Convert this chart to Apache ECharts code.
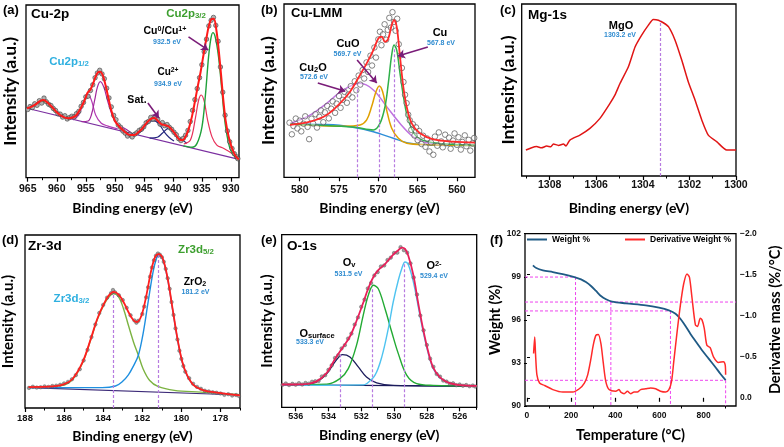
<!DOCTYPE html>
<html><head><meta charset="utf-8">
<script src="https://cdn.jsdelivr.net/npm/echarts@6/dist/echarts.min.js"></script>
<style>html,body{margin:0;padding:0;background:#fff}#c{width:784px;height:447px}</style>
</head><body><div id="c"></div>
<script>
// ---------------- DATA ----------------
// (a) Cu-2p  [binding energy eV, intensity a.u.]
const aTicks = [930,935,940,945,950,955,960,965];
const aMinor = [932.5,937.5,942.5,947.5,952.5,957.5,962.5];
const aObs = [[965.0,39.5],[964.6,41.2],[964.2,40.6],[963.8,42.8],[963.4,41.9],[963.0,44.6],[962.6,43.2],[962.2,46.1],[961.8,44.0],[961.4,42.5],[961.0,41.8],[960.6,40.1],[960.2,38.9],[959.8,37.0],[959.4,36.8],[959.0,35.1],[958.6,35.9],[958.2,34.0],[957.8,34.8],[957.4,35.6],[957.0,35.2],[956.6,37.1],[956.2,38.4],[955.8,41.3],[955.4,43.6],[955.0,46.8],[954.6,47.2],[954.2,50.5],[953.8,53.8],[953.4,57.9],[953.0,60.6],[952.6,62.2],[952.2,60.1],[951.8,57.3],[951.4,51.8],[951.0,46.2],[950.6,41.0],[950.2,36.1],[949.8,33.6],[949.4,30.5],[949.0,29.2],[948.6,27.0],[948.2,25.8],[947.8,24.1],[947.4,25.2],[947.0,23.6],[946.6,25.1],[946.2,26.0],[945.8,27.4],[945.4,28.1],[945.0,29.5],[944.6,31.8],[944.2,32.6],[943.8,34.9],[943.4,33.8],[943.0,35.3],[942.6,33.9],[942.2,31.0],[941.8,31.9],[941.4,30.1],[941.0,30.8],[940.6,29.2],[940.2,28.0],[939.8,26.3],[939.4,24.9],[939.0,22.6],[938.6,21.5],[938.2,22.8],[937.8,24.6],[937.4,27.4],[937.0,32.5],[936.6,39.0],[936.2,45.2],[935.8,51.6],[935.4,57.9],[935.0,65.4],[934.6,73.0],[934.2,80.2],[933.8,87.9],[933.4,91.1],[933.0,92.8],[932.6,88.2],[932.2,79.0],[931.8,64.1],[931.4,49.5],[931.0,36.2],[930.6,27.1],[930.2,20.8],[929.8,16.9],[929.4,13.9],[929.0,12.1],[928.8,11.0]];
const aFit = [[965.13,40.2],[964.3,41.2],[963.71,42.3],[962.9,44.3],[962.28,45.0],[961.6,43.5],[960.86,41.1],[959.44,36.3],[958.02,34.4],[957.17,35.0],[956.6,36.3],[955.9,40.0],[955.18,45.0],[954.72,49.0],[954.2,51.0],[953.75,54.5],[953.3,58.5],[952.9,61.0],[952.5,61.4],[952.1,59.5],[951.7,55.0],[951.19,47.5],[950.62,39.2],[950.0,33.0],[949.2,29.5],[948.35,26.8],[947.5,24.8],[946.65,24.7],[945.9,26.5],[945.22,28.6],[944.37,32.3],[943.7,34.2],[943.2,34.6],[942.6,33.0],[942.0,31.0],[941.3,30.4],[940.78,29.8],[940.2,28.0],[939.5,25.0],[938.8,22.0],[938.3,21.9],[937.7,24.5],[937.2,29.0],[936.7,35.5],[936.2,44.0],[935.7,53.0],[935.2,61.5],[934.7,71.5],[934.2,81.0],[933.8,87.8],[933.35,91.8],[932.95,92.0],[932.5,85.5],[932.1,74.0],[931.7,60.0],[931.3,45.0],[930.9,33.0],[930.4,24.0],[929.9,18.0],[929.4,13.8],[929.0,11.8],[928.61,10.6]];
const aCu0 = [[938.2,18.4],[936.69,17.6],[935.83,19.9],[934.98,29.5],[934.41,46.9],[933.84,70.1],[933.44,80.7],[933.1,84.0],[932.71,81.7],[932.13,70.1],[931.56,50.8],[930.99,31.5],[930.25,18.0],[929.57,13.1],[928.61,10.6]];
const aCu2 = [[938.11,19.5],[936.97,21.8],[936.12,34.4],[935.55,45.0],[935.1,47.9],[934.58,44.0],[934.01,33.4],[933.27,23.8],[932.42,18.9],[931.28,17.0],[929.57,13.5],[928.61,11.0]];
const aSat1 = [[946.07,25.3],[945.22,27.6],[944.37,31.5],[943.34,33.0],[942.38,31.1],[941.52,26.7],[940.67,23.4],[939.8,21.2]];
const aSat2 = [[944.0,22.9],[942.66,23.4],[941.81,25.7],[940.78,28.6],[939.93,26.1],[939.13,22.8],[938.39,21.8],[937.6,20.0]];
const aP1 = [[955.74,32.4],[954.6,32.8],[954.04,36.3],[953.46,45.0],[953.01,52.3],[952.5,55.6],[951.88,52.3],[951.19,44.0],[950.34,35.3],[949.49,30.5],[948.35,28.6],[947.2,26.0]];
const aP2 = [[957.17,33.4],[956.2,36.3],[955.46,43.1],[954.72,48.5],[954.04,45.0],[953.3,36.3],[952.33,31.5],[951.19,29.9],[949.5,28.3]];
const aP962 = [[965.13,40.2],[964.3,41.0],[963.5,42.8],[962.3,44.3],[961.2,41.3],[960.2,38.0],[959.2,35.8],[958.0,34.5]];
const aBase = [[965.13,40.2],[928.61,10.6]];
const aArrows = [[[937.3,81.5],[933.9,73.9]],[[944.3,43.3],[942.4,34.6]]];

// (b) Cu-LMM
const bTicks = [560,565,570,575,580];
const bMinor = [562.5,567.5,572.5,577.5];
const bObs = [[581.3,31.5],[581.0,24.8],[580.8,29.6],[580.5,33.9],[580.3,28.2],[580.0,32.7],[579.8,26.5],[579.5,30.9],[579.3,35.2],[579.0,29.1],[578.8,22.0],[578.5,33.8],[578.3,31.0],[578.0,36.4],[577.8,28.7],[577.5,34.9],[577.3,38.6],[577.0,31.8],[576.8,37.5],[576.5,41.2],[576.3,34.0],[576.0,39.6],[575.8,43.8],[575.5,37.2],[575.3,42.5],[575.0,46.9],[574.8,40.1],[574.5,44.7],[574.3,49.3],[574.0,43.0],[573.8,47.8],[573.5,52.6],[573.3,46.1],[573.0,55.4],[572.8,50.2],[572.5,58.7],[572.3,53.5],[572.0,61.9],[571.8,57.0],[571.5,66.3],[571.3,60.8],[571.0,70.2],[570.8,64.5],[570.5,74.9],[570.3,69.1],[570.0,79.6],[569.8,84.0],[569.6,76.2],[569.4,82.5],[569.2,88.3],[569.0,79.4],[568.8,85.1],[568.6,92.0],[568.4,86.4],[568.2,95.3],[568.0,89.7],[567.8,84.6],[567.6,91.5],[567.4,76.8],[567.2,70.3],[567.0,63.1],[566.8,55.0],[566.6,47.6],[566.4,42.8],[566.2,36.1],[566.0,32.9],[565.8,27.4],[565.6,30.6],[565.4,24.1],[565.2,28.8],[565.0,21.5],[564.8,26.7],[564.5,19.2],[564.3,24.0],[564.0,17.6],[563.8,22.4],[563.5,14.9],[563.3,20.1],[563.0,13.0],[562.8,23.5],[562.5,18.2],[562.3,25.9],[562.0,20.7],[561.8,17.3],[561.5,24.6],[561.3,19.8],[561.0,22.9],[560.8,16.5],[560.5,21.2],[560.3,25.3],[560.0,18.7],[559.8,23.1],[559.5,16.0],[559.3,20.4],[559.0,24.2],[558.8,17.9],[558.5,21.6],[558.3,15.4],[558.0,19.5],[557.8,22.7]];
const bFit = [[581.24,30.2],[578.69,32.1],[576.57,36.0],[574.88,42.7],[573.6,49.4],[572.33,59.0],[571.48,65.7],[570.63,73.4],[570.0,80.1],[569.57,81.1],[569.15,78.2],[568.73,80.1],[568.3,87.8],[568.0,90.7],[567.66,86.9],[567.24,69.5],[566.82,52.2],[566.39,40.7],[565.75,31.1],[564.7,25.4],[563.0,21.9],[560.46,20.6],[557.7,20.0]];
const bBase = [[581.24,30.8],[576.57,30.4],[573.6,29.2],[570.63,26.3],[568.09,22.5],[565.97,19.6],[563.85,18.7],[557.7,18.3]];
const bCu2O = [[581.24,31.0],[578.69,35.9],[576.57,42.7],[574.45,50.4],[572.33,54.2],[570.63,50.4],[568.94,40.8],[567.24,31.1],[565.55,23.4],[563.85,20.0],[557.7,18.6]];
const bCuO = [[581.24,30.8],[574.45,29.5],[572.33,30.2],[571.48,33.1],[570.85,40.8],[570.3,49.4],[569.87,52.7],[569.45,49.4],[568.94,38.8],[568.3,28.3],[567.45,22.5],[566.39,19.6],[563.85,18.8],[557.7,18.4]];
const bCu = [[581.24,30.8],[573.18,29.0],[570.63,27.3],[569.79,31.1],[569.15,40.8],[568.73,54.2],[568.3,70.6],[568.0,76.3],[567.66,73.4],[567.24,60.0],[566.73,44.6],[566.18,33.1],[565.12,23.4],[563.0,20.0],[557.7,18.7]];
const bPeaks = [[572.62,52.3],[569.87,52.3],[568.0,75.4]];
const bArrows = [[[577.7,54.4],[574.2,49.7]],[[572.7,67.7],[570.2,54.4]],[[563.7,75.2],[567.5,70.0]]];

// (c) Mg-1s
const cTicks = [1300,1302,1304,1306,1308];
const cMinor = [1301,1303,1305,1307,1309];
const cLine = [[1309.02,15.1],[1308.8,16.3],[1308.56,17.1],[1308.35,16.4],[1308.13,17.4],[1307.95,17.0],[1307.84,18.6],[1307.62,17.8],[1307.41,18.6],[1307.3,17.5],[1307.13,20.9],[1306.7,23.8],[1306.27,27.7],[1305.84,33.5],[1305.41,42.2],[1305.2,47.0],[1304.98,53.8],[1304.62,63.5],[1304.33,75.1],[1304.05,81.9],[1303.76,87.7],[1303.55,91.0],[1303.33,90.6],[1303.12,89.1],[1302.9,86.8],[1302.62,79.1],[1302.33,67.4],[1302.05,54.8],[1301.76,44.2],[1301.47,32.6],[1301.19,23.8],[1300.83,20.0],[1300.4,15.1],[1300.0,15.1]];
const cPeaks = [[1303.25,90.6]];

// (d) Zr-3d
const dTicks = [178,180,182,184,186,188];
const dMinor = [177,179,181,183,185,187];
const dObs = [[187.8,11.6],[187.6,12.3],[187.4,11.8],[187.2,12.0],[187.0,12.5],[186.8,12.2],[186.6,12.7],[186.4,12.9],[186.2,13.4],[186.0,14.2],[185.8,15.1],[185.6,16.6],[185.4,19.0],[185.2,22.4],[185.0,27.5],[184.8,33.6],[184.6,41.0],[184.4,48.3],[184.2,54.9],[184.0,59.6],[183.8,63.8],[183.6,66.4],[183.5,68.2],[183.4,66.9],[183.2,65.2],[183.0,62.4],[182.8,57.9],[182.6,53.6],[182.4,50.6],[182.3,49.3],[182.2,50.4],[182.0,54.3],[181.9,58.6],[181.8,64.0],[181.7,69.8],[181.6,75.9],[181.5,81.2],[181.4,85.4],[181.3,88.0],[181.2,89.3],[181.1,88.6],[181.0,87.2],[180.9,84.5],[180.8,80.4],[180.7,75.0],[180.6,68.9],[180.5,61.2],[180.4,53.8],[180.3,46.0],[180.2,39.6],[180.1,33.1],[180.0,28.4],[179.9,24.3],[179.8,21.0],[179.6,17.2],[179.4,14.0],[179.2,12.2],[179.0,11.1],[178.8,10.0],[178.6,9.6],[178.4,9.1],[178.2,8.8],[178.0,8.4],[177.8,7.6],[177.6,8.0],[177.4,7.2],[177.2,7.5],[177.05,6.9]];
const dFit = [[187.82,12.1],[186.56,12.5],[186.06,13.5],[185.56,16.9],[185.05,26.6],[184.63,40.1],[184.3,51.6],[183.96,60.3],[183.71,65.1],[183.46,67.1],[183.21,65.5],[182.96,61.3],[182.71,55.5],[182.45,50.7],[182.29,49.7],[182.04,53.5],[181.79,65.1],[181.54,79.6],[181.34,87.3],[181.17,88.9],[180.95,86.4],[180.7,74.8],[180.45,57.4],[180.2,40.1],[179.95,26.6],[179.7,18.9],[179.36,13.1],[178.86,10.2],[178.19,8.9],[177.0,7.3]];
const d32 = [[187.82,12.1],[186.06,13.1],[185.56,16.6],[185.05,26.2],[184.63,39.7],[184.3,51.2],[183.96,59.7],[183.71,64.2],[183.46,66.1],[183.21,64.2],[182.96,57.4],[182.71,47.8],[182.45,38.2],[182.2,30.5],[181.96,22.7],[181.62,15.9],[181.2,12.5],[180.36,10.2],[179.03,9.2],[177.0,7.7]];
const d52 = [[187.82,11.8],[184.05,11.8],[183.37,12.7],[183.04,15.0],[182.71,19.2],[182.45,24.3],[182.2,30.5],[181.96,42.9],[181.7,61.3],[181.45,78.6],[181.28,86.3],[181.17,88.3],[180.95,85.9],[180.7,74.4],[180.45,57.0],[180.2,39.7],[179.95,26.2],[179.7,18.5],[179.36,13.1],[178.86,10.2],[178.19,8.9],[177.0,7.3]];
const dBase = [[187.82,11.8],[177.0,7.5]];
const dPeaks = [[183.5,66.1],[181.2,88.3]];

// (e) O-1s
const eTicks = [526,528,530,532,534,536];
const eMinor = [525,527,529,531,533,535];
const eObs = [[536.8,13.0],[536.6,13.8],[536.4,12.9],[536.2,13.6],[536.0,13.1],[535.8,14.0],[535.6,13.2],[535.4,14.1],[535.2,13.7],[535.0,14.8],[534.8,15.1],[534.6,15.3],[534.4,17.9],[534.2,18.6],[534.0,21.7],[533.8,24.3],[533.6,28.6],[533.4,30.2],[533.2,34.1],[533.0,36.0],[532.8,39.8],[532.6,42.7],[532.4,47.9],[532.2,52.1],[532.0,58.2],[531.8,62.4],[531.6,68.9],[531.4,72.0],[531.2,76.4],[531.0,78.3],[530.8,81.6],[530.6,82.2],[530.4,85.3],[530.2,86.7],[530.0,89.4],[529.8,89.6],[529.6,92.8],[529.4,91.0],[529.2,89.6],[529.0,83.4],[528.8,75.2],[528.6,65.3],[528.4,53.2],[528.2,44.6],[528.0,36.1],[527.8,28.2],[527.6,23.5],[527.4,19.3],[527.2,17.8],[527.0,15.5],[526.8,14.9],[526.6,13.7],[526.4,13.9],[526.2,12.8],[526.0,13.2],[525.8,12.5],[525.6,12.9],[525.4,12.2],[525.2,12.6],[525.05,12.0]];
const eFit = [[536.85,13.2],[535.53,13.3],[534.72,15.0],[534.1,20.0],[533.6,28.0],[533.14,34.5],[532.69,41.0],[532.29,50.0],[531.88,60.5],[531.57,69.0],[531.26,75.5],[530.96,79.5],[530.55,83.0],[530.05,88.5],[529.74,91.0],[529.53,92.5],[529.33,91.8],[529.13,87.8],[528.82,76.5],[528.52,60.0],[528.22,45.0],[527.91,32.0],[527.61,23.0],[527.2,17.3],[526.69,14.3],[525.98,12.9],[524.96,12.4]];
const eSurf = [[536.85,13.0],[535.53,13.2],[534.72,14.7],[534.1,19.5],[533.6,26.3],[533.14,30.5],[532.69,29.2],[532.18,23.4],[531.68,17.6],[531.06,14.1],[530.05,12.7],[524.96,12.3]];
const eOv = [[536.85,13.0],[534.1,13.4],[533.3,16.6],[532.79,22.4],[532.29,35.9],[531.88,53.3],[531.57,64.9],[531.26,70.7],[530.96,68.7],[530.55,57.1],[530.14,43.6],[529.74,31.1],[529.23,18.6],[528.62,13.7],[527.61,12.7],[524.96,12.3]];
const eO2 = [[536.85,12.7],[531.88,13.0],[531.68,13.6],[531.16,18.6],[530.75,29.1],[530.35,45.6],[530.05,61.0],[529.74,73.6],[529.53,80.3],[529.33,84.2],[529.13,82.6],[528.82,72.6],[528.52,58.1],[528.22,43.6],[527.91,31.1],[527.61,22.4],[527.2,17.0],[526.69,14.3],[525.98,12.7],[524.96,12.4]];
const eBase = [[536.85,13.0],[524.96,12.3]];
const ePeaks = [[533.3,30.5],[531.3,69.7],[529.4,84.2]];

// (f) TGA / DTG  [temperature degC, weight % | derivative %/degC]
const fTicks = [0,200,400,600,800];
const fMinor = [100,300,500,700,900];
const fWTicks = [90,93,96,99,102];
const fDTicks = [-2,-1.5,-1,-0.5,0];
const fWeight = [[27,99.80],[42,99.61],[72,99.45],[117,99.33],[162,99.19],[215,98.98],[245,98.82],[267,98.63],[290,98.36],[313,98.01],[335,97.66],[358,97.43],[385,97.27],[448,97.15],[538,97.01],[598,96.85],[643,96.66],[673,96.43],[695,96.08],[718,95.57],[740,95.04],[763,94.53],[793,93.88],[823,93.30],[853,92.72],[876,92.25],[900,91.8]];
const fDeriv = [[30,-0.54],[35,-0.74],[39,-0.52],[45,-0.28],[57,-0.18],[80,-0.15],[117,-0.10],[162,-0.07],[207,-0.07],[237,-0.11],[260,-0.18],[275,-0.28],[290,-0.48],[300,-0.64],[312,-0.76],[323,-0.77],[335,-0.66],[345,-0.44],[357,-0.20],[372,-0.10],[402,-0.08],[417,-0.10],[425,-0.07],[440,-0.05],[455,-0.08],[470,-0.05],[485,-0.07],[500,-0.07],[515,-0.10],[538,-0.11],[560,-0.12],[583,-0.11],[605,-0.08],[628,-0.07],[643,-0.10],[655,-0.20],[665,-0.44],[680,-0.80],[695,-1.13],[710,-1.39],[725,-1.51],[736,-1.47],[748,-1.21],[763,-0.89],[773,-0.87],[785,-0.97],[793,-0.95],[803,-0.85],[815,-0.64],[830,-0.61],[845,-0.50],[868,-0.43],[890,-0.44],[898,-0.40],[900,-0.28]];
const fMarkT = [220,380,650,900];
const fMarkW = [98.98,97.24,96.62,91.79];
const fMarkHEnd = [220,947,650,900];

// ---------------- LAYOUT / STYLE ----------------
const SANS = '"Liberation Sans", Arial, sans-serif';
const TTL = 'Lato, "Open Sans", sans-serif';
const F_XMIN = -9, F_XMAX = 947, F_WMIN = 90;
const grids = [
  {left:24, top:5, width:215, height:172.7},
  {left:284, top:4, width:191, height:173.3},
  {left:521.7, top:4, width:214.3, height:172},
  {left:24, top:235, width:216, height:173},
  {left:281.7, top:234.7, width:195, height:172.6},
  {left:525, top:233.7, width:211, height:172.3}
].map(g => Object.assign({show:true, borderColor:'#000', borderWidth:1.3, backgroundColor:'transparent'}, g));

function xMain(gi, min, max, inverse, ticks, fs, margin, name, gap, nfs) {
  return {type:'value', gridIndex:gi, min, max, inverse, position:'bottom',
    axisLine:{show:false}, splitLine:{show:false},
    axisTick:{show:true, inside:false, length:4, customValues:ticks, lineStyle:{color:'#000', width:1.2}},
    axisLabel:{customValues:ticks, fontSize:fs, fontWeight:'bold', fontFamily:SANS, color:'#111', margin,
      formatter: v => String(v)},
    name, nameLocation:'middle', nameGap:gap,
    nameTextStyle:{fontSize:nfs, fontWeight:'bold', fontFamily:TTL, color:'#000'}};
}
function xMinor(gi, min, max, inverse, ticks) {
  return {type:'value', gridIndex:gi, min, max, inverse, position:'bottom',
    axisLine:{show:false}, splitLine:{show:false}, axisLabel:{show:false},
    axisTick:{show:true, inside:false, length:2.5, customValues:ticks, lineStyle:{color:'#000', width:1}}};
}
function yInt(gi, gap, nfs) {
  return {type:'value', gridIndex:gi, min:0, max:100,
    axisLine:{show:false}, axisTick:{show:false}, axisLabel:{show:false}, splitLine:{show:false},
    name:'Intensity (a.u.)', nameLocation:'middle', nameGap:gap, nameRotate:90,
    nameTextStyle:{fontSize:nfs, fontWeight:'bold', fontFamily:TTL, color:'#000'}};
}
function ln(data, xi, yi, color, w, z, extra) {
  return Object.assign({type:'line', data, xAxisIndex:xi, yAxisIndex:yi, showSymbol:false, symbol:'none',
    smooth:0.35, lineStyle:{color, width:w}, itemStyle:{color}, color, z, silent:true}, extra || {});
}
function sc(data, xi, yi, size, fill, border, bw) {
  return {type:'scatter', data, xAxisIndex:xi, yAxisIndex:yi, symbol:'circle', symbolSize:size,
    itemStyle:{color:fill, borderColor:border, borderWidth:bw}, z:3, silent:true};
}
function arrowML(list, color) {
  const ls = {color, width:1.6, type:'solid'};
  return {silent:true, symbol:['none','arrow'], symbolSize:7, label:{show:false}, lineStyle:ls,
    itemStyle:{color},
    data:list.map(p => [{coord:p[0]},{coord:p[1]}])};
}
function dashML(peaks, color) {
  return {silent:true, symbol:['none','none'], label:{show:false}, lineStyle:{color, width:1.2, type:[3,2]},
    data:peaks.map(p => [{coord:[p[0],0]},{coord:[p[0],p[1]]}])};
}
function dashSeg(p1, p2) {
  return {type:'line', xAxisIndex:5, yAxisIndex:5, data:[p1,p2], showSymbol:false, symbol:'none', silent:true, z:3,
    color:'#ee44ee', lineStyle:{color:'#ee44ee', width:1, type:[3,2]}};
}
const DASH = '#b77be0';
const ARROW = '#7a1c78';

const series = [
  // (a)
  ln(aBase,0,0,'#7b2fa0',1.2,2),
  ln(aP962,0,0,'#9a9a2a',1.2,2),
  ln(aP2,0,0,'#b43cb4',1.2,2),
  ln(aP1,0,0,'#a0289c',1.2,2),
  ln(aSat1,0,0,'#262a80',1.2,2),
  ln(aSat2,0,0,'#262a80',1.2,2),
  ln(aCu2,0,0,'#e8315a',1.2,2),
  ln(aCu0,0,0,'#1fa03a',1.4,2),
  sc(aObs,0,0,4.5,'#9d9d9d','#333',0.7),
  ln(aFit,0,0,'#ff1a1a',2,4,{markLine:arrowML(aArrows,ARROW)}),
  // (b)
  ln(bBase,1,1,'#2f8fd8',1.5,2,{markLine:dashML(bPeaks,DASH)}),
  ln(bCu2O,1,1,'#c072e0',1.5,2),
  ln(bCuO,1,1,'#e0a000',1.5,2),
  ln(bCu,1,1,'#2fb04a',1.5,2),
  sc(bObs,1,1,5.5,'rgba(255,255,255,0.5)','#555',0.9),
  ln(bFit,1,1,'#ff2a2a',1.8,4,{markLine:arrowML(bArrows,ARROW)}),
  // (c)
  ln(cLine,2,2,'#e01515',1.5,4,{smooth:0.2, markLine:dashML(cPeaks,DASH)}),
  // (d)
  ln(dBase,3,3,'#3c2a78',1.2,2,{markLine:dashML(dPeaks,DASH)}),
  ln(d32,3,3,'#7cb342',1.4,2),
  ln(d52,3,3,'#1e8fe0',1.4,2),
  sc(dObs,3,3,3.5,'#8a8a8a','#444',0.5),
  ln(dFit,3,3,'#ff1f1f',1.8,4),
  // (e)
  ln(eBase,4,4,'#1c1c5c',1.2,2,{markLine:dashML(ePeaks,DASH)}),
  ln(eSurf,4,4,'#1c1c5c',1.3,2),
  ln(eOv,4,4,'#22aa33',1.4,2),
  ln(eO2,4,4,'#4ec3f0',1.4,2),
  sc(eObs,4,4,3.5,'#8a8a8a','#444',0.5),
  ln(eFit,4,4,'#e8205a',1.8,4),
  // (f)
  ...fMarkT.flatMap((t,i) => [
    dashSeg([F_XMIN, fMarkW[i]], [fMarkHEnd[i], fMarkW[i]]),
    dashSeg([t, fMarkW[i]], [t, F_WMIN])
  ]),
  Object.assign(ln(fWeight,5,5,'#1f5a85',1.8,4), {name:'Weight %', smooth:0.3}),
  Object.assign(ln(fDeriv,5,6,'#ff2a2a',1.5,4), {name:'Derivative Weight %', smooth:0.25})
];

function rt(x, y, text, size, color, align) {
  const base = {fontSize:size, fontWeight:'bold', fontFamily:SANS, fill:color, color};
  const r = {m:base,
    s:{fontSize:size*0.68, fontWeight:'bold', fontFamily:SANS, fill:color, color, verticalAlign:'bottom'},
    u:{fontSize:size*0.68, fontWeight:'bold', fontFamily:SANS, fill:color, color, verticalAlign:'top'}};
  return {type:'text', x, y, z:100, silent:true,
    style:{text, fill:color, font:`bold ${size}px ${SANS}`, align:align||'center', verticalAlign:'middle',
      textAlign:align||'center', textVerticalAlign:'middle', rich:r}};
}
const BLUE = '#2e8bd0', LBLUE = '#2fb0e0', GREEN = '#3d9f2f';
const graphics = [
  rt(3,10,'(a)',13,'#000','left'), rt(31,14,'Cu-2p',13.5,'#000','left'),
  rt(186,14,'{m|Cu2p}{s|3/2}',11.5,GREEN), rt(165,31,'{m|Cu}{u|0}{m|/Cu}{u|1+}',10.5,'#000'),
  rt(167,42,'932.5 eV',7,BLUE), rt(168,72,'{m|Cu}{u|2+}',10,'#000'), rt(168,84,'934.9 eV',7,BLUE),
  rt(137,100,'Sat.',10.5,'#000'), rt(69,62,'{m|Cu2p}{s|1/2}',11.5,LBLUE),
  rt(261,10,'(b)',13,'#000','left'), rt(291,13,'Cu-LMM',13,'#000','left'),
  rt(313,68,'{m|Cu}{s|2}{m|O}',11,'#000'), rt(314,77.5,'572.6 eV',7,BLUE),
  rt(348,44,'CuO',11,'#000'), rt(347.5,54,'569.7 eV',7,BLUE),
  rt(440,33,'Cu',11,'#000'), rt(441,43,'567.8 eV',7,BLUE),
  rt(500,10,'(c)',13,'#000','left'), rt(528,15,'Mg-1s',13.5,'#000','left'),
  rt(621,26,'MgO',11,'#000'), rt(620,35.5,'1303.2 eV',7,BLUE),
  rt(2,240,'(d)',13,'#000','left'), rt(28,246,'Zr-3d',13.5,'#000','left'),
  rt(196,250,'{m|Zr3d}{s|5/2}',11.5,GREEN), rt(195,282,'{m|ZrO}{s|2}',10.5,'#000'), rt(195.5,292,'181.2 eV',7,BLUE),
  rt(71.5,299,'{m|Zr3d}{s|3/2}',11.5,LBLUE),
  rt(261,240,'(e)',13,'#000','left'), rt(287,246,'O-1s',13.5,'#000','left'),
  rt(349,263,'{m|O}{s|v}',11,'#000'), rt(348.5,274,'531.5 eV',7,BLUE),
  rt(434,266,'{m|O}{u|2-}',11,'#000'), rt(434,276,'529.4 eV',7,BLUE),
  rt(317,334,'{m|O}{s|surface}',11,'#000'), rt(310,342,'533.3 eV',7,BLUE),
  rt(490,240,'(f)',13,'#000','left')
];

const option = {
  animation:false,
  backgroundColor:'#fff',
  grid:grids,
  xAxis:[
    xMain(0,928.6,965.3,true,aTicks,10.5,6,'Binding energy (eV)',24,14),
    xMain(1,557.7,582.0,true,bTicks,10.5,7,'Binding energy (eV)',24,14),
    xMain(2,1300,1309.2,true,cTicks,10.5,4,'Binding energy (eV)',25,14),
    xMain(3,177,188,true,dTicks,9.5,5,'Binding energy (eV)',21,14),
    xMain(4,524.96,536.85,true,eTicks,9,5,'Binding energy (eV)',21,14),
    xMain(5,F_XMIN,F_XMAX,false,fTicks,8.5,5,'Temperature (\u00B0C)',22,14.5),
    xMinor(0,928.6,965.3,true,aMinor),
    xMinor(1,557.7,582.0,true,bMinor),
    xMinor(2,1300,1309.2,true,cMinor),
    xMinor(3,177,188,true,dMinor),
    xMinor(4,524.96,536.85,true,eMinor),
    xMinor(5,F_XMIN,F_XMAX,false,fMinor)
  ],
  yAxis:[
    yInt(0,7,17.5), yInt(1,7,17.5), yInt(2,4,17.5), yInt(3,9,15), yInt(4,7,15),
    {type:'value', gridIndex:5, min:F_WMIN, max:102, position:'left',
      axisLine:{show:false}, splitLine:{show:false},
      axisTick:{show:true, length:3, customValues:fWTicks, lineStyle:{color:'#000'}},
      axisLabel:{customValues:fWTicks, fontSize:8.5, fontWeight:'bold', fontFamily:SANS, color:'#111', margin:4},
      name:'Weight (%)', nameLocation:'middle', nameGap:20, nameRotate:90,
      nameTextStyle:{fontSize:14.5, fontWeight:'bold', fontFamily:TTL, color:'#000'}},
    {type:'value', gridIndex:5, min:-2, max:0.1, inverse:true, position:'right',
      axisLine:{show:false}, splitLine:{show:false},
      axisTick:{show:true, length:3, customValues:fDTicks, lineStyle:{color:'#000'}},
      axisLabel:{customValues:fDTicks, fontSize:8.5, fontWeight:'bold', fontFamily:SANS, color:'#111', margin:4,
        formatter: v => (v < 0 ? '\u2212' : '') + Math.abs(v).toFixed(1)},
      name:'Derivative mass (%/\u00B0C)', nameLocation:'middle', nameGap:32, nameRotate:90,
      nameTextStyle:{fontSize:14.5, fontWeight:'bold', fontFamily:TTL, color:'#000'}}
  ],
  legend:[
    {data:['Weight %'], left:527, top:235, icon:'rect', itemWidth:20, itemHeight:2, padding:0, itemGap:3,
      textStyle:{fontSize:8.5, fontWeight:'bold', fontFamily:SANS, color:'#000'}},
    {data:['Derivative Weight %'], left:625, top:235, icon:'rect', itemWidth:20, itemHeight:2, padding:0, itemGap:3,
      textStyle:{fontSize:8.5, fontWeight:'bold', fontFamily:SANS, color:'#000'}}
  ],
  series,
  graphic:graphics
};
const chart = echarts.init(document.getElementById('c'), null, {renderer:'canvas'});
chart.setOption(option);
</script></body></html>
